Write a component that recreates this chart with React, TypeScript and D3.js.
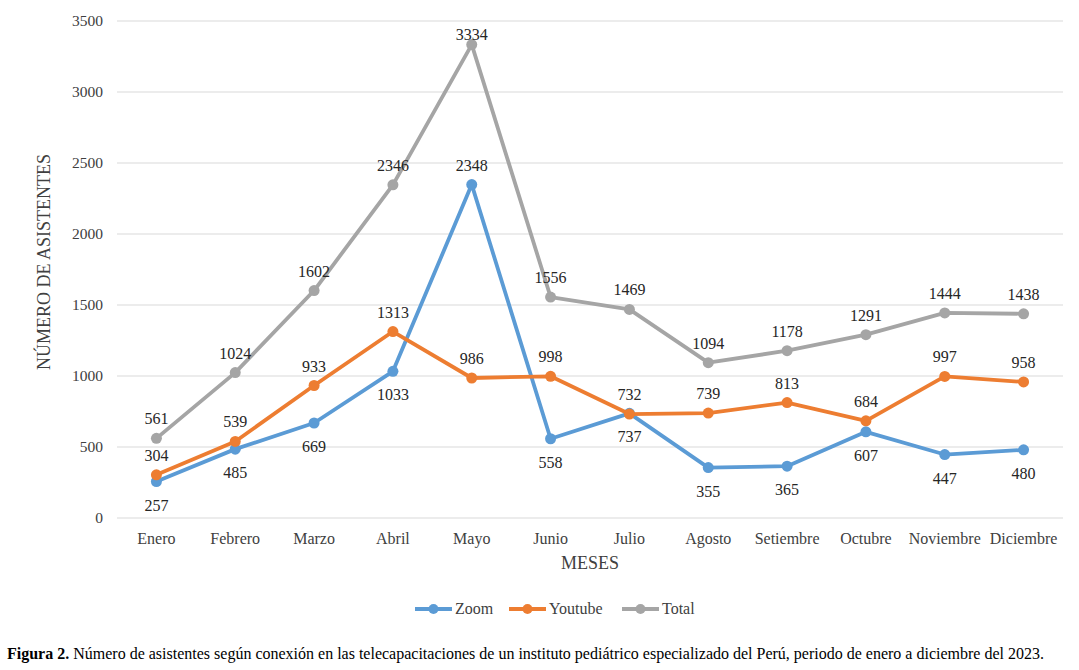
import React from "react";
import * as d3 from "d3";

const months = ["Enero","Febrero","Marzo","Abril","Mayo","Junio","Julio","Agosto","Setiembre","Octubre","Noviembre","Diciembre"];
const zoom = [257,485,669,1033,2348,558,737,355,365,607,447,480];
const youtube = [304,539,933,1313,986,998,732,739,813,684,997,958];
const total = [561,1024,1602,2346,3334,1556,1469,1094,1178,1291,1444,1438];
const yTicks = [0,500,1000,1500,2000,2500,3000,3500];
// label placement: 1 = above, -1 = below
const zoomPos = [-1,-1,-1,-1,1,-1,-1,-1,-1,-1,-1,-1];
const youtubePos = [1,1,1,1,1,1,1,1,1,1,1,1];
const totalPos = [1,1,1,1,1,1,1,1,1,1,1,1];

const series = [
  { name: "Zoom", values: zoom, color: "#5B9BD5", pos: zoomPos },
  { name: "Youtube", values: youtube, color: "#ED7D31", pos: youtubePos },
  { name: "Total", values: total, color: "#A5A5A5", pos: totalPos },
];

export default function App() {
  const W = 1079, H = 670;
  const left = 117, right = 1063, top = 21, bottom = 518;
  const x = d3.scaleBand().domain(months).range([left, right]);
  const y = d3.scaleLinear().domain([0, 3500]).range([bottom, top]);
  const cx = (m: string) => (x(m) as number) + x.bandwidth() / 2;
  const line = d3.line<number>().x((_, i) => cx(months[i])).y(d => y(d));
  const font = "Liberation Serif, Times New Roman, DejaVu Serif, serif";
  const legendX = [415, 509, 622];
  const labelY = (v: number, p: number) => (p > 0 ? Math.max(y(v) - 14, top + 19) : y(v) + 29);
  return (
    <svg width={W} height={H} style={{ position: "absolute", left: 0, top: 0, background: "#fff", fontFamily: font }}>
      <rect x={0} y={0} width={W} height={H} fill="#fff" />
      {yTicks.map(t => (
        <g key={t}>
          <line x1={left} x2={right} y1={y(t)} y2={y(t)} stroke="#D9D9D9" strokeWidth={1.2} />
          <text x={103} y={y(t) + 5} textAnchor="end" fontSize={15.5} fill="#404040">{t}</text>
        </g>
      ))}
      {months.map(m => (
        <text key={m} x={cx(m)} y={544} textAnchor="middle" fontSize={16} fill="#404040">{m}</text>
      ))}
      <text x={590} y={569} textAnchor="middle" fontSize={18} fill="#404040">MESES</text>
      <text transform={`translate(50,262) rotate(-90)`} textAnchor="middle" fontSize={18} fill="#404040">NÚMERO DE ASISTENTES</text>
      {series.map(s => (
        <g key={s.name}>
          <path d={line(s.values) || ""} fill="none" stroke={s.color} strokeWidth={3.8} strokeLinejoin="round" />
          {s.values.map((v, i) => (
            <circle key={i} cx={cx(months[i])} cy={y(v)} r={5.5} fill={s.color} />
          ))}
        </g>
      ))}
      {series.map(s => (
        <g key={s.name + "l"}>
          {s.values.map((v, i) => (
            <text key={i} x={cx(months[i])} y={labelY(v, s.pos[i])} textAnchor="middle" fontSize={16} fill="#262626">{v}</text>
          ))}
        </g>
      ))}
      {series.map((s, i) => (
        <g key={s.name + "lg"}>
          <line x1={legendX[i]} x2={legendX[i] + 37} y1={609} y2={609} stroke={s.color} strokeWidth={3.8} />
          <circle cx={legendX[i] + 18.5} cy={609} r={5} fill={s.color} />
          <text x={legendX[i] + 40} y={614} fontSize={16} fill="#404040">{s.name}</text>
        </g>
      ))}
      <text x={7} y={659} fontSize={16} fill="#000">
        <tspan fontWeight="bold">Figura 2.</tspan>
        <tspan> Número de asistentes según conexión en las telecapacitaciones de un instituto pediátrico especializado del Perú, periodo de enero a diciembre del 2023.</tspan>
      </text>
    </svg>
  );
}
